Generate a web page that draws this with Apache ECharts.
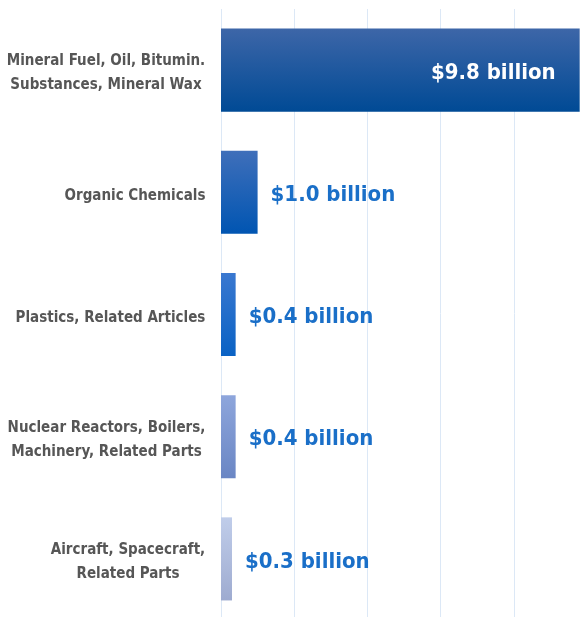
<!DOCTYPE html>
<html>
<head>
<meta charset="utf-8">
<script src="https://cdn.jsdelivr.net/npm/echarts@6/dist/echarts.min.js"></script>
<style>
html,body{margin:0;padding:0;background:#fff;}
#chart{width:587px;height:617px;}
</style>
</head>
<body>
<div id="chart"></div>
<script>
const categories = [
  "Mineral Fuel, Oil, Bitumin.\nSubstances, Mineral Wax",
  "Organic Chemicals",
  "Plastics, Related Articles",
  "Nuclear Reactors, Boilers,\nMachinery, Related Parts",
  "Aircraft, Spacecraft,\nRelated Parts"
];
const values = [9.8, 1.0, 0.4, 0.4, 0.3];
const valueLabels = ["$9.8 billion", "$1.0 billion", "$0.4 billion", "$0.4 billion", "$0.3 billion"];
const topColors = ["#3d66a8", "#3f6fba", "#3a78d0", "#8ea6dc", "#c0cdea"];
const bottomColors = ["#004a95", "#0055b2", "#0a62c4", "#6a86c4", "#9eabd0"];
const xTicks = [0, 2, 4, 6, 8, 10];

const FONT = "'DejaVu Sans Condensed', 'Liberation Sans Narrow', sans-serif";
const catFontSize = 15;
const ctx = document.createElement('canvas').getContext('2d');
ctx.font = 'bold ' + catFontSize + 'px ' + FONT;
const rich = {};
categories.forEach((c, i) => {
  const w = Math.max(...c.split('\n').map(l => ctx.measureText(l).width));
  rich['c' + i] = {
    width: Math.ceil(w) + 1, align: 'center',
    fontFamily: FONT, fontSize: catFontSize, fontWeight: 'bold',
    color: '#565656', lineHeight: 24
  };
});

const chart = echarts.init(document.getElementById('chart'), null, {renderer: 'canvas'});
chart.setOption({
  animation: false,
  grid: {left: 221, right: 0, top: 9, bottom: -3, containLabel: false, outerBoundsMode: 'none'},
  xAxis: {
    type: 'value', min: xTicks[0], max: xTicks[xTicks.length - 1], interval: 2,
    axisLabel: {show: false}, axisTick: {show: false}, axisLine: {show: false},
    splitLine: {show: true, lineStyle: {color: '#dce8f6', width: 1}}
  },
  yAxis: {
    type: 'category', inverse: true, data: categories,
    axisTick: {show: false},
    axisLine: {show: false},
    axisLabel: {
      margin: 15, align: 'right',
      padding: [7, 0, 0, 0],
      formatter: (v, i) => v.split('\n').map(l => '{c' + i + '|' + l + '}').join('\n'),
      rich: rich
    }
  },
  series: [{
    type: 'bar',
    barWidth: '68%',
    data: values.map((v, i) => ({
      value: v,
      itemStyle: {
        color: new echarts.graphic.LinearGradient(0, 0, 0, 1, [
          {offset: 0, color: topColors[i]},
          {offset: 1, color: bottomColors[i]}
        ])
      },
      label: i === 0 ? {position: 'insideRight', distance: 24, color: '#ffffff'} : {position: 'right', distance: 13, color: '#1a6fc8'}
    })),
    label: {
      show: true,
      fontFamily: FONT, fontSize: 22, fontWeight: 'bold',
      offset: [0, 3],
      formatter: p => valueLabels[p.dataIndex]
    }
  }]
});
</script>
</body>
</html>
